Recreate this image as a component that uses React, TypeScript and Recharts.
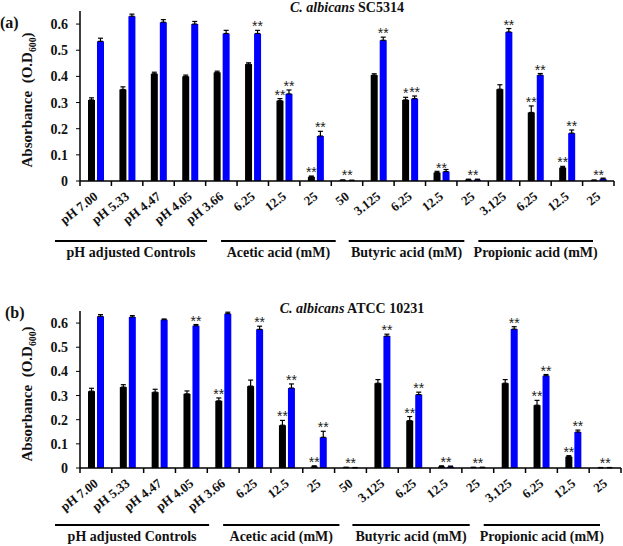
import React from 'react'
import { BarChart, Bar, XAxis, YAxis, ErrorBar, LabelList } from 'recharts'

// concentrations / pH levels along the x axis
const categories = [
  'pH 7.00', 'pH 5.33', 'pH 4.47', 'pH 4.05', 'pH 3.66',
  '6.25', '12.5', '25', '50',
  '3.125', '6.25', '12.5', '25',
  '3.125', '6.25', '12.5', '25',
]
const groupNames = ['pH adjusted Controls', 'Acetic acid (mM)', 'Butyric acid (mM)', 'Propionic acid (mM)']
const groupSizes = [5, 4, 4, 4]
const yTicks = [0, 0.1, 0.2, 0.3, 0.4, 0.5, 0.6]

// (a) C. albicans SC5314
const aBlack = [0.31, 0.35, 0.41, 0.40, 0.415, 0.447, 0.307, 0.016, 0.003, 0.405, 0.31, 0.032, 0.005, 0.351, 0.262, 0.051, 0.002]
const aBlue = [0.534, 0.63, 0.607, 0.60, 0.564, 0.564, 0.333, 0.172, 0.002, 0.538, 0.315, 0.036, 0.005, 0.57, 0.405, 0.183, 0.008]
const aBlackErr = [0.008, 0.01, 0.006, 0.005, 0.005, 0.005, 0.008, 0.003, 0.001, 0.005, 0.01, 0.005, 0.002, 0.017, 0.025, 0.005, 0.002]
const aBlueErr = [0.012, 0.008, 0.01, 0.01, 0.012, 0.012, 0.015, 0.018, 0.001, 0.012, 0.01, 0.008, 0.002, 0.013, 0.006, 0.012, 0.003]
const aBlackSig = ['', '', '', '', '', '', '**', '**', '', '', '*', '', '', '', '**', '**', '']
const aBlueSig = ['', '', '', '', '', '**', '**', '**', '', '**', '**', '', '', '**', '**', '**', '']
const aMidSig = ['', '', '', '', '', '', '', '', '**', '', '', '**', '**', '', '', '', '**']

// (b) C. albicans ATCC 10231
const bBlack = [0.318, 0.335, 0.314, 0.307, 0.278, 0.339, 0.177, 0.006, 0.002, 0.351, 0.196, 0.006, 0.002, 0.351, 0.26, 0.047, 0.001]
const bBlue = [0.628, 0.625, 0.614, 0.589, 0.639, 0.574, 0.331, 0.127, 0.001, 0.546, 0.304, 0.005, 0.002, 0.575, 0.382, 0.149, 0.001]
const bBlackErr = [0.012, 0.01, 0.012, 0.012, 0.012, 0.025, 0.02, 0.003, 0.001, 0.015, 0.017, 0.003, 0.001, 0.015, 0.02, 0.004, 0.001]
const bBlueErr = [0.007, 0.006, 0.003, 0.005, 0.006, 0.013, 0.017, 0.025, 0.001, 0.008, 0.01, 0.003, 0.001, 0.01, 0.005, 0.008, 0.001]
const bBlackSig = ['', '', '', '', '**', '', '**', '**', '', '', '**', '', '', '', '**', '**', '']
const bBlueSig = ['', '', '', '**', '', '**', '**', '**', '', '**', '**', '', '', '**', '**', '**', '']
const bMidSig = ['', '', '', '', '', '', '', '', '**', '', '', '**', '**', '', '', '', '**']

const SERIF = "'Liberation Serif', 'Times New Roman', serif"
const SANS = "'Liberation Sans', Arial, sans-serif"
const Y_MAX = 0.65
const AXIS_W = 80
const X_AXIS_H = 90
// underline insets (left, right) relative to each group's band edges
const LINE_INSET = [[-25, -30], [-16, -27], [-14, -24], [-10, -21]]

const groupStarts = groupSizes.map((_, i) => groupSizes.slice(0, i).reduce((s, n) => s + n, 0))

interface PanelProps {
  top: number
  height: number
  right: number
  marginTop: number
  lineGap: number
  black: number[]
  blue: number[]
  blackErr: number[]
  blueErr: number[]
  blackSig: string[]
  blueSig: string[]
  midSig: string[]
}

function Panel(p: PanelProps) {
  const data = categories.map((c, i) => ({
    cat: c,
    black: p.black[i], blue: p.blue[i],
    blackErr: [0, p.blackErr[i]], blueErr: [0, p.blueErr[i]],
    bs: p.blackSig[i], us: p.blueSig[i], ms: p.midSig[i],
  }))
  const plotW = 623 - AXIS_W - p.right
  const bw = plotW / categories.length
  const plotH = p.height - p.marginTop - X_AXIS_H
  const unit = plotH / Y_MAX

  const stars = (errs: number[]) => (props: any) => {
    const { x, y, width, value, index } = props
    if (!value) return null
    const top = y - errs[index] * unit
    return (
      <text x={x + width / 2} y={top + 1} textAnchor="middle" fontFamily={SANS} fontSize={14} fill="#222">
        {value}
      </text>
    )
  }
  const midStars = (props: any) => {
    const { x, y, width, value } = props
    if (!value) return null
    return (
      <text x={x + width + 1} y={y} textAnchor="middle" fontFamily={SANS} fontSize={14} fill="#222">
        {value}
      </text>
    )
  }

  const CatTick = (props: any) => {
    const { x, y, payload, index } = props
    const gi = groupStarts.indexOf(index)
    let group = null
    if (gi >= 0) {
      const x0 = x - bw / 2
      const x1 = x0 + LINE_INSET[gi][0]
      const x2 = x0 + groupSizes[gi] * bw + LINE_INSET[gi][1]
      const ly = y + p.lineGap
      group = (
        <g>
          <line x1={x1} x2={x2} y1={ly} y2={ly} stroke="#000" strokeWidth={2} />
          <text x={(x1 + x2) / 2} y={ly + 16} textAnchor="middle" fontFamily={SERIF} fontWeight="bold" fontSize={14} fill="#111">
            {groupNames[gi]}
          </text>
        </g>
      )
    }
    const tx = x + 3
    const ty = y + 17
    return (
      <g>
        <line x1={x - bw / 2} x2={x - bw / 2} y1={y} y2={y + 5} stroke="#000" strokeWidth={1.5} />
        {index === categories.length - 1 && (
          <line x1={x + bw / 2} x2={x + bw / 2} y1={y} y2={y + 5} stroke="#000" strokeWidth={1.5} />
        )}
        <text x={tx} y={ty} transform={`rotate(-38 ${tx} ${ty})`} textAnchor="end" fontFamily={SERIF} fontWeight="bold" fontSize={13} fill="#111">
          {payload.value}
        </text>
        {group}
      </g>
    )
  }

  return (
    <div style={{ position: 'absolute', left: 0, top: p.top }}>
      <BarChart
        width={623}
        height={p.height}
        data={data}
        margin={{ top: p.marginTop, right: p.right, bottom: 0, left: 0 }}
        barSize={7}
        barGap={2}
      >
        <XAxis
          dataKey="cat"
          interval={0}
          height={X_AXIS_H}
          tickSize={0}
          tickMargin={0}
          tickLine={false}
          axisLine={{ stroke: '#000', strokeWidth: 1.5 }}
          tick={CatTick}
        />
        <YAxis
          width={AXIS_W}
          domain={[0, Y_MAX]}
          ticks={yTicks}
          tickFormatter={(v: number) => (v === 0 ? '0' : v.toFixed(1))}
          tickSize={4}
          tickMargin={8}
          axisLine={{ stroke: '#000', strokeWidth: 1.5 }}
          tickLine={{ stroke: '#000' }}
          tick={{ fill: '#111', fontSize: 14, fontWeight: 'bold', fontFamily: SERIF }}
        />
        <Bar dataKey="black" fill="#000" isAnimationActive={false}>
          <ErrorBar dataKey="blackErr" width={2.5} stroke="#000" strokeWidth={1.2} />
          <LabelList dataKey="bs" content={stars(p.blackErr)} />
          <LabelList dataKey="ms" content={midStars} />
        </Bar>
        <Bar dataKey="blue" fill="#0000ff" isAnimationActive={false}>
          <ErrorBar dataKey="blueErr" width={2.5} stroke="#000" strokeWidth={1.2} />
          <LabelList dataKey="us" content={stars(p.blueErr)} />
        </Bar>
      </BarChart>
    </div>
  )
}

const abs = (left: number, top: number, extra: React.CSSProperties = {}): React.CSSProperties => ({
  position: 'absolute', left, top, whiteSpace: 'nowrap', fontFamily: SERIF, fontWeight: 'bold', color: '#111', ...extra,
})

function YLabel({ x, y, size }: { x: number; y: number; size: number }) {
  return (
    <div style={abs(x, y, { fontSize: size, transform: 'translate(-50%, -50%) rotate(-90deg)', lineHeight: 1 })}>
      Absorbance&nbsp; (O.D<sub style={{ fontSize: size * 0.65 }}>600</sub>)
    </div>
  )
}

function Title({ x, y, strain }: { x: number; y: number; strain: string }) {
  return (
    <div style={abs(x, y, { fontSize: 14, transform: 'translate(-50%, -50%)', lineHeight: 1 })}>
      <i>C. albicans</i> {strain}
    </div>
  )
}

export default function App() {
  return (
    <div style={{ position: 'absolute', left: 0, top: 0, width: 623, height: 546, overflow: 'hidden', background: '#fff' }}>
      <Panel
        top={0} height={11 + 170 + X_AXIS_H} right={9} marginTop={11} lineGap={60}
        black={aBlack} blue={aBlue} blackErr={aBlackErr} blueErr={aBlueErr}
        blackSig={aBlackSig} blueSig={aBlueSig} midSig={aMidSig}
      />
      <Panel
        top={280} height={31 + 157 + X_AXIS_H} right={2} marginTop={31} lineGap={57}
        black={bBlack} blue={bBlue} blackErr={bBlackErr} blueErr={bBlueErr}
        blackSig={bBlackSig} blueSig={bBlueSig} midSig={bMidSig}
      />
      <div style={abs(0, 14, { fontSize: 16 })}>(a)</div>
      <div style={abs(5, 304, { fontSize: 16 })}>(b)</div>
      <Title x={347} y={8} strain="SC5314" />
      <Title x={352} y={309} strain="ATCC 10231" />
      <YLabel x={29} y={100} size={15} />
      <YLabel x={29} y={394} size={15} />
    </div>
  )
}
